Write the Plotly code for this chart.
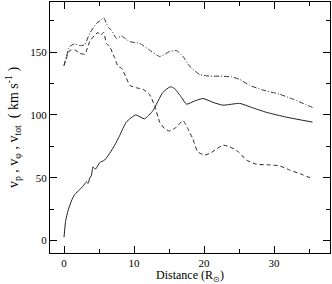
import plotly.graph_objects as go

# v_p (solid)
xp = [0, 0.24, 0.57, 1.05, 1.53, 2.24, 2.7, 3.2, 3.45, 3.67, 3.9, 4.14, 4.48, 5.1, 5.81, 6.53, 7.24, 7.96,
      8.9, 10.24, 11.5, 12.7, 14.1, 15.2, 15.8, 16.8, 17.5, 18.7, 19.86, 21.3, 22.7, 25.1, 26.8, 28.9, 31.8, 35.5]
vp = [2.6, 15.7, 23.6, 31.4, 36.6, 40.5, 43.2, 46.6, 45.5, 49.7, 51.5, 58.6, 56.8, 62, 64.1, 69.4, 75.9, 83.7,
      94.3, 100, 96.9, 103.4, 117.8, 122.5, 121, 113.9, 108.6, 111.2, 113.1, 110, 107.8, 109.2, 106, 102.1, 98.2, 94.3]

# v_phi (dashed)
xphi = [0, 0.81, 1.53, 2.24, 2.96, 3.67, 4.38, 4.86, 5.2, 5.67, 6.05, 6.53, 7.24, 7.72, 8.2, 8.9, 9.4, 10.3,
        11.3, 12.2, 12.96, 13.67, 14.4, 15.1, 16.06, 17.0, 17.7, 18.4, 19.1, 20.1, 21.05, 22.7, 23.67, 24.9,
        26.06, 27.5, 29.4, 30.8, 32.2, 34.1, 35.5]
vphi = [139.3, 151.3, 151.8, 149.2, 148.4, 158.4, 163.6, 165.7, 163.6, 165.7, 157.1, 154.4, 145.3, 138.7,
        137.4, 129.6, 123.6, 121.7, 120.4, 116.5, 107.3, 94.3, 89, 87.2, 90.3, 95.5, 89, 81, 70.7, 68, 70.1,
        75.9, 74.6, 70.7, 64.1, 60.7, 60.2, 59.4, 56.2, 52.3, 49.2]

# v_tot (dash-dot)
xtot = [0, 0.81, 1.53, 2.24, 2.96, 3.67, 4.62, 5.1, 5.67, 6.3, 6.77, 7.48, 8.2, 9.4, 10.8, 12.2, 13.67,
        15.1, 16.06, 17.0, 17.96, 19.4, 20.8, 22.2, 23.9, 25.1, 26.5, 28.4, 30.8, 32.7, 35.5]
vtot = [139.3, 154.4, 156.6, 155.2, 156, 165, 172.8, 174.9, 177.5, 170, 167.6, 161, 162.8, 158.4, 157,
        151.8, 146.6, 150.5, 151.3, 146.6, 138.7, 132.2, 130.9, 130.9, 130.4, 128.3, 123.6, 119.9, 116.5,
        112.6, 106]

x_ticks = [0, 10, 20, 30]
y_ticks = [0, 50, 100, 150]
x_range = [-2, 38]
y_range = [-10, 190]
x_title = "Distance (R<sub>⊙</sub>)"
y_title = "v<sub>p</sub> , v<sub>φ</sub> , v<sub>tot</sub>  ( km s<sup>-1</sup> )"

fig = go.Figure()
fig.add_trace(go.Scatter(x=xp, y=vp, mode="lines",
                         line=dict(color="#222222", width=1, shape="spline", smoothing=0.5)))
fig.add_trace(go.Scatter(x=xphi, y=vphi, mode="lines",
                         line=dict(color="#222222", width=1, dash="4px,3px", shape="spline", smoothing=0.5)))
fig.add_trace(go.Scatter(x=xtot, y=vtot, mode="lines",
                         line=dict(color="#333333", width=1, dash="5px,2px,1px,2px", shape="spline", smoothing=0.5)))

font_family = "Liberation Serif"
fig.update_layout(
    width=332, height=284,
    margin=dict(l=50, r=2, t=1, b=28),
    paper_bgcolor="white", plot_bgcolor="white",
    showlegend=False,
    font=dict(family=font_family, size=11, color="black"),
    xaxis=dict(
        range=x_range, tickvals=x_ticks, ticktext=[str(v) for v in x_ticks],
        ticks="inside", ticklen=7, tickcolor="black", tickwidth=1,
        minor=dict(ticks="inside", ticklen=4, dtick=5, tick0=0, tickcolor="black", showgrid=False),
        showline=True, linecolor="black", linewidth=1, mirror="allticks",
        showgrid=False, zeroline=False,
        tickfont=dict(family=font_family, size=11),
        title=dict(text=x_title, font=dict(family=font_family, size=12), standoff=5),
    ),
    yaxis=dict(
        range=y_range, tickvals=y_ticks, ticktext=[str(v) for v in y_ticks],
        ticks="inside", ticklen=7, tickcolor="black", tickwidth=1,
        minor=dict(ticks="inside", ticklen=4, dtick=25, tick0=0, tickcolor="black", showgrid=False),
        showline=True, linecolor="black", linewidth=1, mirror="allticks",
        showgrid=False, zeroline=False,
        tickfont=dict(family=font_family, size=11),
        title=dict(text=y_title, font=dict(family=font_family, size=14), standoff=8),
    ),
)

fig.write_html("out.html", config={"displayModeBar": False},
               post_script="document.body.style.margin='0';")
